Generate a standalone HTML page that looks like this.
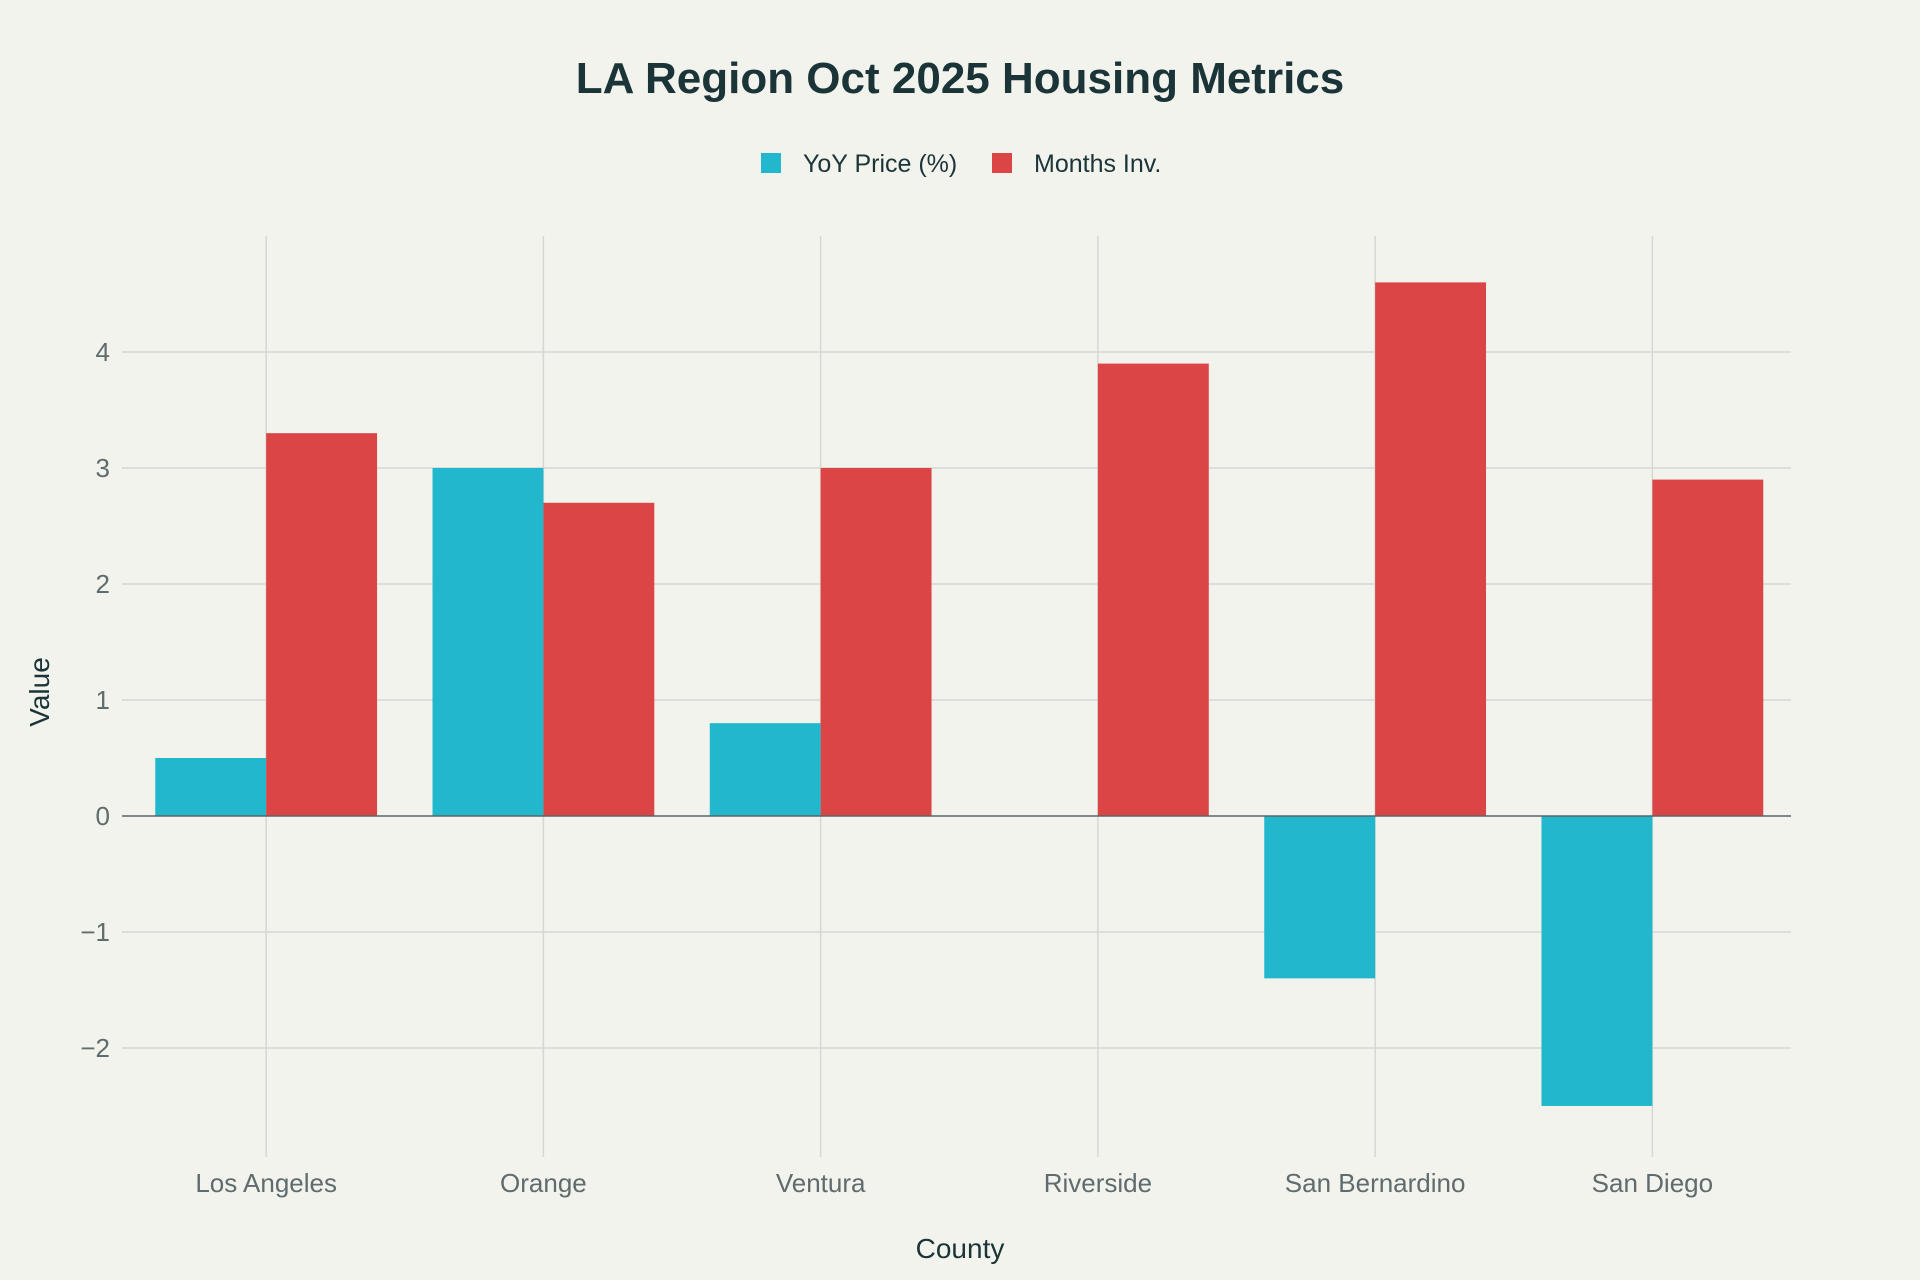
<!DOCTYPE html>
<html><head><meta charset="utf-8"><style>
html,body{margin:0;padding:0;background:#f3f3ee;}
svg{display:block;font-family:"Liberation Sans",sans-serif;}
</style></head><body>
<svg id="chart" width="1920" height="1280" viewBox="0 0 1920 1280">
<rect width="1920" height="1280" fill="#f3f3ee"/>
<text x="960" y="93" text-anchor="middle" font-size="44" font-weight="bold" fill="#1a3438">LA Region Oct 2025 Housing Metrics</text>
<g>
<g><rect x="761" y="153" width="20" height="20" fill="#21b8cd"/><text x="803" y="172" font-size="25" fill="#1a3438">YoY Price (%)</text></g>
<g><rect x="992" y="153" width="20" height="20" fill="#db4546"/><text x="1034" y="172" font-size="25" fill="#1a3438">Months Inv.</text></g>
</g>
<g id="grid"></g><g id="bars"></g><g id="axes"></g>
<text x="1" y="1" transform="translate(48,693) rotate(-90)" text-anchor="middle" font-size="28" fill="#1a3438">Value</text>
<text x="960" y="1258" text-anchor="middle" font-size="28" fill="#1a3438">County</text>
</svg>
<script>
const categories=["Los Angeles","Orange","Ventura","Riverside","San Bernardino","San Diego"];
const yoyPrice=[0.5,3.0,0.8,0.0,-1.4,-2.5];
const monthsInv=[3.3,2.7,3.0,3.9,4.6,2.9];
const yTicks=[-2,-1,0,1,2,3,4];
const yTickLabels=["−2","−1","0","1","2","3","4"];
const NS="http://www.w3.org/2000/svg";
const L=122,R=1791,T=236,B=1157,ymin=-2.94,ymax=5.0,xmin=-0.52,xmax=5.5;
function xs(i){return L+(i-xmin)/(xmax-xmin)*(R-L);}
function ys(v){return B-(v-ymin)/(ymax-ymin)*(B-T);}
function mk(tag,attrs,parent){const e=document.createElementNS(NS,tag);for(const k in attrs)e.setAttribute(k,attrs[k]);parent.appendChild(e);return e;}
const grid=document.getElementById('grid'),bars=document.getElementById('bars'),axes=document.getElementById('axes');
const step=xs(1)-xs(0),bw=step*0.4;
yTicks.forEach((t,i)=>{
 if(t!==0){const g=mk('line',{x1:L,x2:R,y1:ys(t),y2:ys(t),stroke:'#d6d6d2','stroke-width':1.5},grid);
 
 }
 const tx=mk('text',{x:L-12,y:ys(t)+9,'text-anchor':'end','font-size':26,fill:'#5f6b6d'},axes);tx.textContent=yTickLabels[i];
 
 
});
categories.forEach((c,i)=>{
 const g=mk('line',{x1:xs(i),x2:xs(i),y1:T,y2:B,stroke:'#d6d6d2','stroke-width':1.5},grid);
 
 
 const tx=mk('text',{x:xs(i),y:B+35,'text-anchor':'middle','font-size':26,fill:'#5f6b6d'},axes);tx.textContent=c;
 
 
 const v1=yoyPrice[i],v2=monthsInv[i];
 const b1=mk('rect',{x:xs(i)-bw,y:Math.min(ys(v1),ys(0)),width:bw,height:Math.abs(ys(v1)-ys(0)),fill:'#21b8cd'},bars);
 
 
 const b2=mk('rect',{x:xs(i),y:Math.min(ys(v2),ys(0)),width:bw,height:Math.abs(ys(v2)-ys(0)),fill:'#db4546'},bars);
 
 
});
const z=mk('line',{x1:L,x2:R,y1:ys(0),y2:ys(0),stroke:'#5a6466','stroke-width':1.5},axes);


</script>
</body></html>
